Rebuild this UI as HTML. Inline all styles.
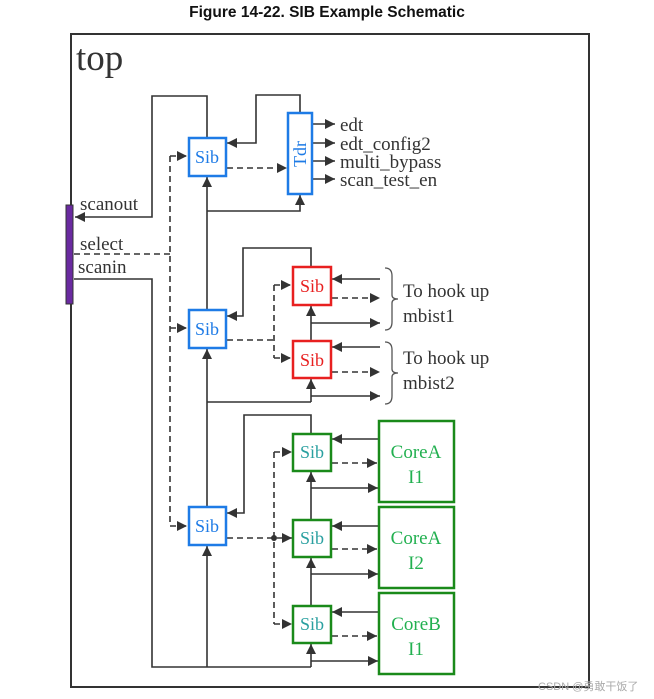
<!DOCTYPE html>
<html><head><meta charset="utf-8"><style>
html,body{margin:0;padding:0;background:#fff;}
svg{display:block;}
</style></head><body>
<svg width="654" height="699" viewBox="0 0 654 699" xmlns="http://www.w3.org/2000/svg">
<defs>
<marker id="a" viewBox="0 0 10 10" refX="10" refY="5" markerWidth="10" markerHeight="10" markerUnits="userSpaceOnUse" orient="auto">
<path d="M0,0 L10,5 L0,10 z" fill="#333"/></marker>
</defs>
<text x="327" y="17" text-anchor="middle" font-family="Liberation Sans, sans-serif" font-weight="bold" font-size="15.5" fill="#111">Figure 14-22. SIB Example Schematic</text>
<rect x="71" y="34" width="518" height="653" fill="none" stroke="#333" stroke-width="2"/>
<text x="76" y="70" font-family="Liberation Serif, serif" font-size="37" fill="#333">top</text>

<g font-family="Liberation Serif, serif" font-size="19" fill="#333">
<text x="80" y="210">scanout</text>
<text x="80" y="250">select</text>
<text x="78" y="273">scanin</text>
<text x="340" y="131">edt</text>
<text x="340" y="150">edt_config2</text>
<text x="340" y="168">multi_bypass</text>
<text x="340" y="186">scan_test_en</text>
<text x="403" y="297">To hook up</text>
<text x="403" y="322">mbist1</text>
<text x="403" y="364">To hook up</text>
<text x="403" y="389">mbist2</text>
</g>

<g fill="none" stroke="#333" stroke-width="1.6">
<polyline points="207,137 207,96 152,96 152,217 75,217" marker-end="url(#a)"/>
<polyline points="300,113 300,95 256,95 256,143 227,143" marker-end="url(#a)"/>
<line x1="312" y1="124" x2="335" y2="124" marker-end="url(#a)"/>
<line x1="312" y1="143" x2="335" y2="143" marker-end="url(#a)"/>
<line x1="312" y1="161" x2="335" y2="161" marker-end="url(#a)"/>
<line x1="312" y1="179" x2="335" y2="179" marker-end="url(#a)"/>
<line x1="207" y1="310" x2="207" y2="177" marker-end="url(#a)"/>
<polyline points="207,211 300,211 300,195" marker-end="url(#a)"/>
<line x1="207" y1="507" x2="207" y2="349" marker-end="url(#a)"/>
<polyline points="74,279 152,279 152,667 311,667"/>
<line x1="207" y1="667" x2="207" y2="546" marker-end="url(#a)"/>
<polyline points="311,267 311,248 243,248 243,316 227,316" marker-end="url(#a)"/>
<line x1="380" y1="279" x2="332" y2="279" marker-end="url(#a)"/>
<line x1="311" y1="323" x2="380" y2="323" marker-end="url(#a)"/>
<line x1="311" y1="342" x2="311" y2="306" marker-end="url(#a)"/>
<line x1="380" y1="347" x2="332" y2="347" marker-end="url(#a)"/>
<polyline points="207,402 311,402"/>
<line x1="311" y1="402" x2="311" y2="379" marker-end="url(#a)"/>
<line x1="311" y1="396" x2="380" y2="396" marker-end="url(#a)"/>
<polyline points="311,434 311,415 244,415 244,513 227,513" marker-end="url(#a)"/>
<line x1="378" y1="439" x2="332" y2="439" marker-end="url(#a)"/>
<line x1="311" y1="488" x2="378" y2="488" marker-end="url(#a)"/>
<line x1="311" y1="520" x2="311" y2="472" marker-end="url(#a)"/>
<line x1="378" y1="526" x2="332" y2="526" marker-end="url(#a)"/>
<line x1="311" y1="574" x2="378" y2="574" marker-end="url(#a)"/>
<line x1="311" y1="606" x2="311" y2="558" marker-end="url(#a)"/>
<line x1="378" y1="612" x2="332" y2="612" marker-end="url(#a)"/>
<line x1="311" y1="661" x2="378" y2="661" marker-end="url(#a)"/>
<line x1="311" y1="667" x2="311" y2="644" marker-end="url(#a)"/>
</g>
<g fill="none" stroke="#333" stroke-width="1.6" stroke-dasharray="6,4">
<polyline points="74,254 170,254"/>
<line x1="170" y1="156" x2="170" y2="526"/>
<line x1="170" y1="156" x2="187" y2="156" marker-end="url(#a)"/>
<line x1="170" y1="328" x2="187" y2="328" marker-end="url(#a)"/>
<line x1="170" y1="526" x2="187" y2="526" marker-end="url(#a)"/>
<line x1="227" y1="168" x2="287" y2="168" marker-end="url(#a)"/>
<polyline points="227,340 274,340"/>
<line x1="274" y1="285" x2="274" y2="358"/>
<line x1="274" y1="285" x2="291" y2="285" marker-end="url(#a)"/>
<line x1="274" y1="358" x2="291" y2="358" marker-end="url(#a)"/>
<line x1="332" y1="298" x2="380" y2="298" marker-end="url(#a)"/>
<line x1="332" y1="372" x2="380" y2="372" marker-end="url(#a)"/>
<line x1="227" y1="538" x2="292" y2="538" marker-end="url(#a)"/>
<line x1="274" y1="452" x2="274" y2="624"/>
<line x1="274" y1="452" x2="292" y2="452" marker-end="url(#a)"/>
<line x1="274" y1="624" x2="292" y2="624" marker-end="url(#a)"/>
<line x1="332" y1="463" x2="377" y2="463" marker-end="url(#a)"/>
<line x1="332" y1="549" x2="377" y2="549" marker-end="url(#a)"/>
<line x1="332" y1="636" x2="377" y2="636" marker-end="url(#a)"/>
</g>
<circle cx="274" cy="538" r="3" fill="#333"/>
<g fill="none" stroke="#555" stroke-width="1.3">
<path d="M385,268 q7,0 7,8 v19 q0,4 6,4 q-6,0 -6,4 v19 q0,8 -7,8"/>
<path d="M385,342 q7,0 7,8 v19 q0,4 6,4 q-6,0 -6,4 v19 q0,8 -7,8"/>
</g>
<rect x="66" y="205" width="7" height="99" fill="#6a2aa0" stroke="#333" stroke-width="1"/>

<g font-family="Liberation Serif, serif" font-size="18" text-anchor="middle">
<rect x="189" y="138" width="37" height="38" fill="#fff" stroke="#1e7be6" stroke-width="2.5"/>
<text x="207" y="163" fill="#1e7be6">Sib</text>
<rect x="189" y="310" width="37" height="38" fill="#fff" stroke="#1e7be6" stroke-width="2.5"/>
<text x="207" y="335" fill="#1e7be6">Sib</text>
<rect x="189" y="507" width="37" height="38" fill="#fff" stroke="#1e7be6" stroke-width="2.5"/>
<text x="207" y="532" fill="#1e7be6">Sib</text>
<rect x="288" y="113" width="24" height="81" fill="#fff" stroke="#1e7be6" stroke-width="2.5"/>
<text x="0" y="0" transform="translate(306,154) rotate(-90)" fill="#1e7be6">Tdr</text>
<rect x="293" y="267" width="38" height="38" fill="#fff" stroke="#e82020" stroke-width="2.5"/>
<text x="312" y="292" fill="#e82020">Sib</text>
<rect x="293" y="341" width="38" height="37" fill="#fff" stroke="#e82020" stroke-width="2.5"/>
<text x="312" y="366" fill="#e82020">Sib</text>
<rect x="293" y="434" width="38" height="37" fill="#fff" stroke="#1a8a1a" stroke-width="2.5"/>
<text x="312" y="458" fill="#2aa0a0">Sib</text>
<rect x="293" y="520" width="38" height="37" fill="#fff" stroke="#1a8a1a" stroke-width="2.5"/>
<text x="312" y="544" fill="#2aa0a0">Sib</text>
<rect x="293" y="606" width="38" height="37" fill="#fff" stroke="#1a8a1a" stroke-width="2.5"/>
<text x="312" y="630" fill="#2aa0a0">Sib</text>
<g font-size="19" fill="#22b050">
<rect x="379" y="421" width="75" height="81" fill="#fff" stroke="#1a8a1a" stroke-width="2.5"/>
<text x="416" y="458">CoreA</text><text x="416" y="483">I1</text>
<rect x="379" y="507" width="75" height="81" fill="#fff" stroke="#1a8a1a" stroke-width="2.5"/>
<text x="416" y="544">CoreA</text><text x="416" y="569">I2</text>
<rect x="379" y="593" width="75" height="81" fill="#fff" stroke="#1a8a1a" stroke-width="2.5"/>
<text x="416" y="630">CoreB</text><text x="416" y="655">I1</text>
</g>
</g>
<text x="538" y="690" font-family="Liberation Sans, 'Noto Sans CJK SC', sans-serif" font-size="11" fill="#aaa">CSDN @勇敢干饭了</text>
</svg>
</body></html>
